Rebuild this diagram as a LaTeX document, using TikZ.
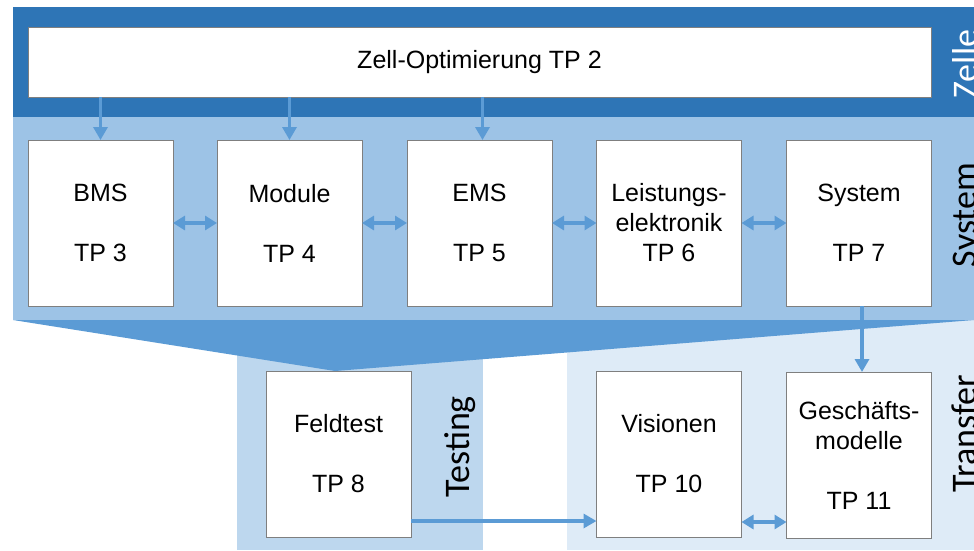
\documentclass[tikz,border=0pt]{standalone}
\usepackage{fontspec}
\setmainfont{Liberation Sans}
\newfontfamily\bandfont{Carlito}
\usetikzlibrary{arrows.meta}

\definecolor{zelleblue}{HTML}{2E75B6}
\definecolor{systemblue}{HTML}{9DC3E6}
\definecolor{funnelblue}{HTML}{5B9BD5}
\definecolor{testblue}{HTML}{BDD7EE}
\definecolor{transferblue}{HTML}{DEEBF7}
\definecolor{boxline}{HTML}{7F7F7F}
\definecolor{arrowblue}{HTML}{5B9BD5}

\tikzset{
  tpbox/.style={draw=boxline, line width=1pt, fill=white, inner sep=0pt, outer sep=0pt,
    minimum width=145pt, minimum height=166pt, align=center,
    font={\fontsize{25}{30}\selectfont}},
  bandlabel/.style={rotate=90, anchor=base, inner sep=0pt,
    font={\bandfont\fontsize{36}{40}\selectfont}},
  flow/.style={draw=arrowblue, line width=3.4pt,
    -{Triangle[width=14pt,length=13pt]}},
  mutual/.style={draw=arrowblue, line width=3.4pt,
    {Triangle[width=14pt,length=12pt]}-{Triangle[width=14pt,length=12pt]}}
}

\begin{document}
\begin{tikzpicture}[x=1pt,y=-1pt]
\useasboundingbox (0,0) rectangle (974,550);
\clip (0,0) rectangle (974,550);

% layer bands
\fill[zelleblue] (13,7) rectangle (974,117);
\fill[systemblue] (13,117) rectangle (974,320);
\fill[testblue] (237,320) rectangle (483,550);
\fill[transferblue] (567,320) rectangle (974,550);
\fill[funnelblue] (13,320) -- (974,320) -- (335,371) -- cycle;

% cell level
\node[tpbox, minimum width=903pt, minimum height=70pt] (zell) at (479.5,62) {Zell-Optimierung TP 2};

% system level
\node[tpbox] (bms) at (100.5,223) {BMS\\[30pt]TP 3};
\node[tpbox] (mod) at (289.5,223) {Module\\[30pt]TP 4};
\node[tpbox] (ems) at (479.5,223) {EMS\\[30pt]TP 5};
\node[tpbox] (le)  at (669,223)   {Leistungs-\\elektronik\\TP 6};
\node[tpbox] (sys) at (859,223)   {System\\[30pt]TP 7};

% testing and transfer
\node[tpbox] (feld) at (338.5,454) {Feldtest\\[30pt]TP 8};
\node[tpbox] (vis)  at (669,454)   {Visionen\\[30pt]TP 10};
\node[tpbox] (ges)  at (859,455)   {Geschäfts-\\modelle\\[30pt]TP 11};

% band labels
\node[bandlabel, text=white] (lzelle) at (977,64) {Zelle};
\node[bandlabel] (lsystem) at (976,215) {System};
\node[bandlabel] (ltransfer) at (976,434) {Transfer};
\node[bandlabel] (ltesting) at (469,447) {Testing};

% connectors
\draw[flow] (zell.south -| bms.north) -- (bms.north);
\draw[flow] (zell.south -| mod.north) -- (mod.north);
\draw[flow] ([xshift=3pt]zell.south -| ems.north) -- ([xshift=3pt]ems.north);
\draw[mutual] (bms.east) -- (mod.west);
\draw[mutual] (mod.east) -- (ems.west);
\draw[mutual] (ems.east) -- (le.west);
\draw[mutual] (le.east) -- (sys.west);
\draw[flow] ([xshift=3pt]sys.south) -- ([xshift=3pt]ges.north);
\draw[flow] ([yshift=16pt]feld.south east) -- ([yshift=16pt]feld.south east -| vis.west);
\draw[mutual] ([yshift=15pt]vis.south east) -- ([yshift=15pt]vis.south east -| ges.west);
\end{tikzpicture}
\end{document}
